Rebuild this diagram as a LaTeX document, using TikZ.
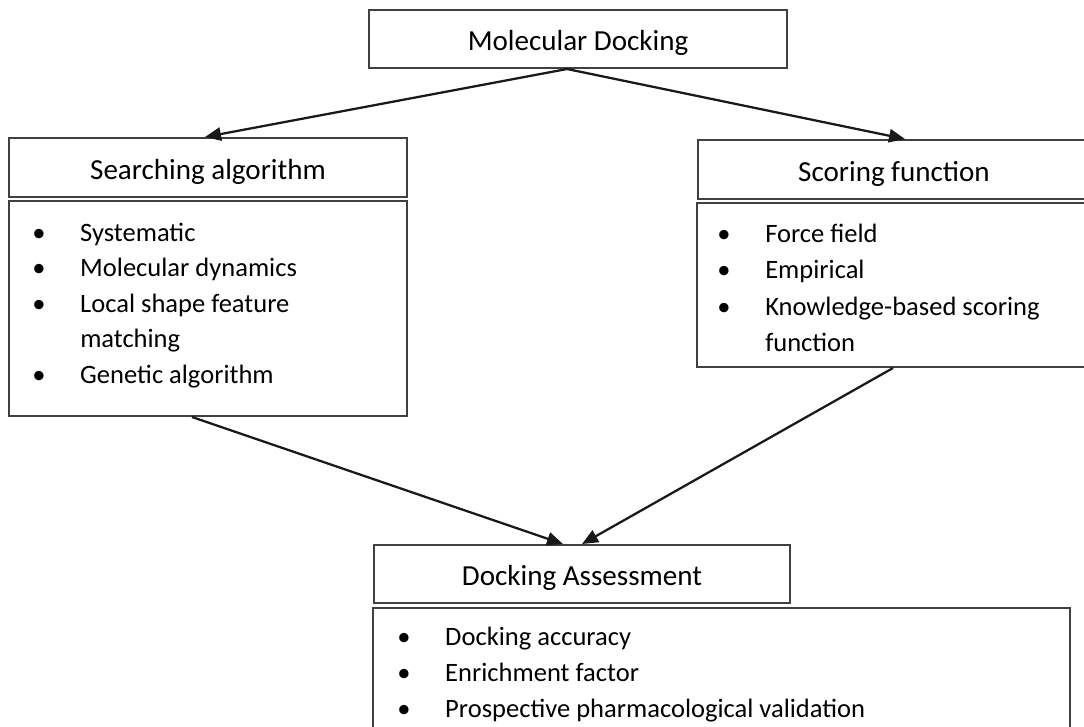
\documentclass[tikz,border=0pt]{standalone}
\usepackage{fontspec}
\setmainfont{Carlito}
\usetikzlibrary{arrows.meta}
\newcommand\listrow[4]{%
  \node[listtext] (#1) at (#2,#3) {\makebox[36pt][l]{\textbullet}#4};}
\newcommand\listcont[4]{%
  \node[listtext] (#1) at (#2,#3) {\hspace*{36pt}#4};}
\newcommand\hd[1]{\raisebox{-3pt}[\height][\depth]{#1}}
\begin{document}
\begin{tikzpicture}[x=0.75pt,y=-0.75pt,
  box/.style={draw=black!75, line width=1.5pt, rectangle, inner sep=0pt, fill=white},
  headtext/.style={font=\fontsize{21.8}{26}\selectfont},
  listtext/.style={anchor=base west, inner sep=0pt, font=\fontsize{19.9}{26}\selectfont},
  link/.style={draw=black!90, line width=1.7pt, -{Triangle[length=12pt,width=10pt]}}]
\useasboundingbox[fill=white] (0,0) rectangle (1084,726);

% header boxes
\node[box, headtext, minimum width=313.5pt, minimum height=43.5pt] (top) at (578,39) {\hd{Molecular Docking}};
\node[box, headtext, minimum width=298.5pt, minimum height=44.25pt] (sa) at (208,167.5) {\hd{Searching algorithm}};
\node[box, headtext, minimum width=294pt, minimum height=44.25pt] (sf) at (894,169.5) {\hd{Scoring function}};
\node[box, headtext, minimum width=312pt, minimum height=43.5pt] (da) at (582,574) {\hd{Docking Assessment}};

% content boxes
\node[box, minimum width=298.5pt, minimum height=161.25pt] (sab) at (208,308.5) {};
\node[box, minimum width=294.75pt, minimum height=123pt] (sfb) at (893,285) {};
\node[box, minimum width=522.75pt, minimum height=99pt] (dab) at (721.5,674) {};

% searching algorithm list
\listrow{sa1}{32}{241}{Systematic}
\listrow{sa2}{32}{276.5}{Molecular dynamics}
\listrow{sa3}{32}{312}{Local shape feature}
\listcont{sa4}{32}{347.5}{matching}
\listrow{sa5}{32}{383}{Genetic algorithm}

% scoring function list
\listrow{sf1}{717}{242}{Force field}
\listrow{sf2}{717}{278.5}{Empirical}
\listrow{sf3}{717}{315}{Knowledge-based scoring}
\listcont{sf4}{717}{351.5}{function}

% docking assessment list
\listrow{da1}{397}{645}{Docking accuracy}
\listrow{da2}{397}{681}{Enrichment factor}
\listrow{da3}{397}{717}{Prospective pharmacological validation}

% connectors
\draw[link] ([xshift=-8.25pt]top.south) -- ([xshift=-2.25pt]sa.north);
\draw[link] ([xshift=-8.25pt]top.south) -- ([xshift=8.25pt]sf.north);
\draw[link] ([xshift=-12pt]sab.south) -- ([xshift=-14.25pt]da.north);
\draw[link] ([xshift=0pt]sfb.south) -- ([xshift=0pt]da.north);
\end{tikzpicture}
\end{document}
